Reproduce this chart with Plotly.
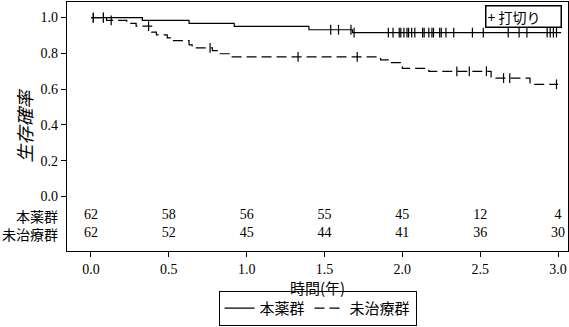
import numpy as np
import plotly.graph_objects as go

# ---- data ----
solid_t = [0.0, 0.33, 0.63, 0.92, 1.40, 1.68, 3.02]
solid_s = [1.0, 0.984, 0.968, 0.951, 0.932, 0.916, 0.916]
solid_cens = [0.015, 0.08, 1.54, 1.59, 1.67, 1.69, 1.91, 1.94, 1.98, 1.99, 2.01, 2.03,
              2.04, 2.06, 2.08, 2.13, 2.14, 2.17, 2.19, 2.20, 2.24, 2.25, 2.28, 2.33,
              2.45, 2.52, 2.68, 2.75, 2.80, 2.93, 2.95, 2.97, 2.99]

dash_t = [0.0, 0.10, 0.23, 0.29, 0.39, 0.42, 0.49, 0.51, 0.63, 0.65, 0.78, 0.83, 0.90,
          1.86, 1.93, 2.00, 2.17, 2.57, 2.82, 3.0]
dash_s = [1.0, 0.984, 0.968, 0.952, 0.919, 0.903, 0.887, 0.871, 0.847, 0.831, 0.815,
          0.798, 0.780, 0.764, 0.748, 0.716, 0.700, 0.662, 0.627, 0.627]
dash_cens = [0.015, 0.08, 0.13, 0.37, 0.765, 1.33, 1.71, 2.35, 2.43, 2.54, 2.65, 2.69, 2.99]

risk_times = [0.0, 0.5, 1.0, 1.5, 2.0, 2.5, 3.0]
risk_a = [62, 58, 56, 55, 45, 12, 4]
risk_b = [62, 52, 45, 44, 41, 36, 30]
group_names = ["本薬群", "未治療群"]

xticks = [0.0, 0.5, 1.0, 1.5, 2.0, 2.5, 3.0]
yticks = [0.0, 0.2, 0.4, 0.6, 0.8, 1.0]

ROW_A_Y = -0.108
ROW_B_Y = -0.204


def step_at(ts, ss, q):
    ts = np.asarray(ts)
    ss = np.asarray(ss)
    idx = np.searchsorted(ts, np.asarray(q), side="right") - 1
    return ss[idx]


SERIF = "Liberation Serif"
SANS = "Noto Sans CJK JP"

fig = go.Figure()
fig.add_trace(go.Scatter(x=solid_t, y=solid_s, mode="lines", line_shape="hv",
                         line=dict(color="black", width=1.2), name=group_names[0]))
fig.add_trace(go.Scatter(x=dash_t, y=dash_s, mode="lines", line_shape="hv",
                         line=dict(color="black", width=1.2, dash="10px,5px"),
                         name=group_names[1]))
for ts, ss, cs in [(solid_t, solid_s, solid_cens), (dash_t, dash_s, dash_cens)]:
    fig.add_trace(go.Scatter(x=cs, y=step_at(ts, ss, cs), mode="markers",
                             marker=dict(symbol="line-ns-open", size=7, color="black",
                                         line=dict(color="black", width=1.2)),
                             showlegend=False, hoverinfo="skip"))
for vals, yy in [(risk_a, ROW_A_Y), (risk_b, ROW_B_Y)]:
    fig.add_trace(go.Scatter(x=risk_times, y=[yy] * len(risk_times), mode="text",
                             text=[str(v) for v in vals],
                             textfont=dict(family=SERIF, size=14, color="black"),
                             showlegend=False, hoverinfo="skip", cliponaxis=False))

fig.add_annotation(text="<br>".join(group_names), xref="paper", yref="y", x=-0.014,
                   y=(ROW_A_Y + ROW_B_Y) / 2, xanchor="right", yanchor="middle",
                   align="right", showarrow=False,
                   font=dict(family=SANS, size=14, color="black"))

fig.add_annotation(text="+ 打切り", xref="paper", yref="paper", x=0.912, y=0.943,
                   xanchor="center", yanchor="middle", showarrow=False,
                   width=72, height=18, align="left", borderpad=1,
                   bordercolor="black", borderwidth=1.5,
                   font=dict(family=SANS, size=14, color="black"))

fig.update_layout(
    width=569, height=327,
    margin=dict(l=67, r=1, t=2, b=69),
    paper_bgcolor="white", plot_bgcolor="white",
    showlegend=True,
    legend=dict(orientation="h", x=0.5, xanchor="center", y=-0.16, yanchor="top",
                bordercolor="black", borderwidth=1, itemwidth=30,
                font=dict(family=SANS, size=15, color="black")),
    xaxis=dict(range=[-0.154, 3.064], tickvals=xticks,
               ticktext=[f"{v:.1f}" for v in xticks],
               ticks="outside", ticklen=5, tickcolor="black", showgrid=False,
               zeroline=False, showline=True, linecolor="black", linewidth=1.2,
               mirror=True, tickfont=dict(family=SERIF, size=14, color="black"),
               title=dict(text="時間(年)", font=dict(family=SANS, size=15, color="black"),
                          standoff=1)),
    yaxis=dict(range=[-0.304, 1.087], tickvals=yticks,
               ticktext=[f"{v:.1f}" for v in yticks],
               ticks="outside", ticklen=5, tickcolor="black", showgrid=False,
               zeroline=False, showline=True, linecolor="black", linewidth=1.2,
               mirror=True, tickfont=dict(family=SERIF, size=14, color="black"),
               title=dict(text="生存確率", font=dict(family=SANS, size=18, color="black",
                                                   style="italic"),
                          standoff=3)),
)

fig.write_html("out.html")
